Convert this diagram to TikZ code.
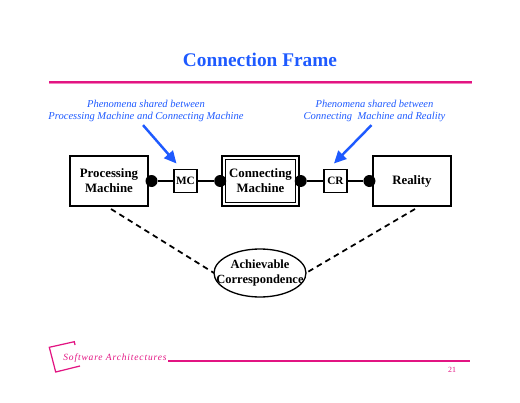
\documentclass[tikz,border=0pt]{standalone}
\usepackage{fontspec}
\setmainfont{Liberation Serif}
\usepackage{tikz}
\usetikzlibrary{arrows.meta,positioning,shapes.geometric}
\definecolor{slideblue}{RGB}{30,90,255}
\definecolor{slidepink}{RGB}{226,20,130}
\definecolor{slidelight}{RGB}{244,130,190}
\tikzset{
  bbox/.style={rectangle, draw=black, line width=0.75pt, fill=white,
               align=center, font=\fontsize{7.3}{8.6}\selectfont\bfseries,
               minimum width=1.56cm, minimum height=1cm,
               inner sep=0pt, outer sep=0pt},
  smallbox/.style={bbox, minimum width=0.46cm, minimum height=0.46cm, font=\fontsize{6.4}{8}\selectfont\bfseries},
  blob/.style={circle, fill=black, minimum size=0.24cm, inner sep=0pt, outer sep=0pt},
  note/.style={align=center, text=slideblue, inner sep=0pt,
               font=\fontsize{6}{6.8}\selectfont\itshape},
  barr/.style={-{Triangle[length=7pt,width=6.5pt]}, line width=1.4pt, slideblue},
  conn/.style={line width=0.75pt, black},
  dasharr/.style={line width=1pt, dash pattern=on 3.2pt off 2.4pt, black},
  prule/.style={line width=1.1pt, slidepink}
}
\begin{document}
\begin{tikzpicture}[x=0.02cm, y=-0.02cm]
\useasboundingbox (0,0) rectangle (520,402);
\node[text=slideblue, font=\fontsize{11}{14}\selectfont\bfseries] (title) at (260,60) {Connection Frame};
\coordinate (ruleL) at (49,82);
\coordinate (ruleR) at (472,82);
\draw[line width=1.2pt, slidelight] ([yshift=-0.7]ruleL) -- ([yshift=-0.7]ruleR);
\draw[prule] (ruleL) -- (ruleR);
% boxes
\node[bbox] (pm) at (109,181) {Processing\\Machine};
\node[smallbox, right=0.52cm of pm] (mc) {MC};
\node[bbox, line width=1.2pt, minimum width=1.54cm, right=0.5cm of mc] (cmout) {};
\node[bbox, minimum width=1.41cm, minimum height=0.87cm] (cm) at (cmout) {Connecting\\Machine};
\node[smallbox, right=0.5cm of cmout] (cr) {CR};
\node[bbox, right=0.52cm of cr] (re) {Reality};
\node[blob, xshift=2] (dotpm) at (pm.east) {};
\node[blob, xshift=-1] (dotcml) at (cmout.west) {};
\node[blob, xshift=1] (dotcmr) at (cmout.east) {};
\node[blob, xshift=-2] (dotre) at (re.west) {};
\draw[conn] (dotpm) -- (mc);
\draw[conn] (mc) -- (dotcml);
\draw[conn] (dotcmr) -- (cr);
\draw[conn] (cr) -- (dotre);
% notes
\node[note] (notemc) at (146,111) {Phenomena shared between\\Processing Machine and Connecting Machine};
\node[note] (notecr) at (374.5,111) {Phenomena shared between\\Connecting\ \ Machine and Reality};
\draw[barr] ([shift={(-3,3)}]notemc.south) -- ([shift={(-9,-6)}]mc.north);
\draw[barr] ([shift={(-3,3)}]notecr.south) -- ([shift={(-1.5,-6)}]cr.north);
% correspondence
\node[ellipse, draw=black, line width=0.75pt, minimum width=1.84cm, minimum height=0.96cm,
      inner sep=0pt, outer sep=0pt,
      label={[align=center, inner sep=0pt, font=\fontsize{7.1}{8.6}\selectfont\bfseries]center:Achievable\\Correspondence}] (ac) at (260,273) {};
\coordinate (footpm) at (111,209);
\coordinate (footre) at (415,209);
\draw[dasharr] (footpm) -- (ac.west);
\draw[dasharr] (footre) -- (ac.east);
% footer
\draw[slidepink, line width=0.7pt] (75,345) -- (74.3,341.7) -- (49.3,347.3) -- (55.7,372) -- (80,366);
\node[anchor=west, inner sep=0pt, text=slidepink, font=\fontsize{5.4}{7}\selectfont\itshape\addfontfeature{LetterSpace=9}] (foot) at (63,358) {Software Architectures};
\coordinate (footL) at (168,361);
\coordinate (footR) at (470,361);
\draw[line width=1.7pt, slidelight] (footL) -- (footR);
\draw[prule, line width=0.9pt] (footL) -- (footR);
\node[text=slidepink, font=\fontsize{4.5}{5}\selectfont, inner sep=0pt] (page) at (452,369.5) {21};
\end{tikzpicture}
\end{document}
